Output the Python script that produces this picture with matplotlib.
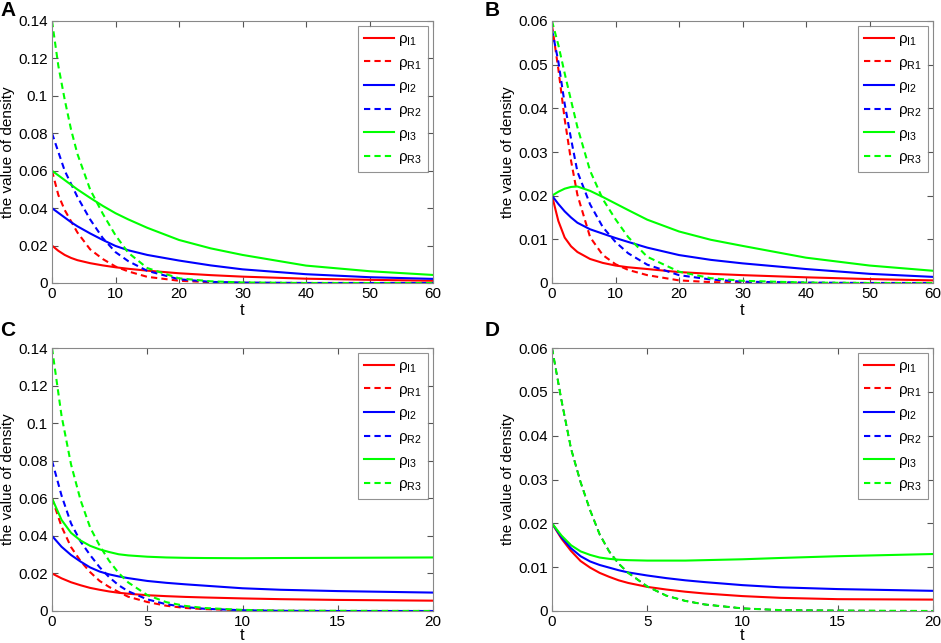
import numpy as np
import matplotlib.pyplot as plt

plt.rcParams['font.family'] = ['Liberation Sans', 'DejaVu Sans']
plt.rcParams['mathtext.fontset'] = 'custom'
plt.rcParams['mathtext.rm'] = 'Liberation Sans'
plt.rcParams['mathtext.default'] = 'regular'

# time samples
t_long = [0, 1, 2, 3, 4, 6, 8, 10, 12, 15, 20, 25, 30, 40, 50, 60]
t_short = [0, 0.5, 1, 1.5, 2, 2.5, 3, 3.5, 4, 5, 6, 7, 8, 10, 12, 15, 20]

# panel A (t 0..60)
a_i1 = [0.020, 0.0172, 0.0150, 0.0134, 0.0122, 0.0106, 0.0094, 0.0084, 0.0076, 0.0066, 0.0052, 0.0042, 0.0034, 0.0023, 0.0017, 0.0012]
a_r1 = [0.060, 0.047, 0.039, 0.033, 0.027, 0.018, 0.0128, 0.0088, 0.0062, 0.0033, 0.0012, 0.0004, 0.0001, 0.0, 0.0, 0.0]
a_i2 = [0.040, 0.0375, 0.0350, 0.0325, 0.0303, 0.0265, 0.0230, 0.0198, 0.0175, 0.0150, 0.0120, 0.0094, 0.0073, 0.0047, 0.0031, 0.0022]
a_r2 = [0.080, 0.070, 0.060, 0.053, 0.046, 0.034, 0.024, 0.0165, 0.0117, 0.0065, 0.0020, 0.0006, 0.0002, 0.0, 0.0, 0.0]
a_i3 = [0.060, 0.0575, 0.055, 0.0525, 0.050, 0.0455, 0.0412, 0.0373, 0.034, 0.0295, 0.0230, 0.0185, 0.0150, 0.0093, 0.0063, 0.0043]
a_r3 = [0.140, 0.116, 0.098, 0.082, 0.069, 0.050, 0.037, 0.0255, 0.0162, 0.0080, 0.0025, 0.0009, 0.0003, 0.0, 0.0, 0.0]

# panel B (t 0..60)
b_i1 = [0.020, 0.0142, 0.0104, 0.0084, 0.0071, 0.0055, 0.0046, 0.0040, 0.0036, 0.0032, 0.0025, 0.0021, 0.0018, 0.0013, 0.0009, 0.0006]
b_r1 = [0.059, 0.049, 0.0375, 0.028, 0.0202, 0.0105, 0.0064, 0.0043, 0.0030, 0.0018, 0.0006, 0.0002, 0.0001, 0.0, 0.0, 0.0]
b_i2 = [0.020, 0.0181, 0.0164, 0.0150, 0.0138, 0.0123, 0.0113, 0.0103, 0.0094, 0.0081, 0.0064, 0.0053, 0.0045, 0.0032, 0.0021, 0.0014]
b_r2 = [0.058, 0.0507, 0.041, 0.033, 0.0255, 0.0180, 0.0128, 0.0094, 0.0068, 0.0042, 0.0018, 0.0008, 0.0003, 0.0001, 0.0, 0.0]
b_i3 = [0.020, 0.0209, 0.0216, 0.0220, 0.0221, 0.0211, 0.0197, 0.0182, 0.0167, 0.0145, 0.0118, 0.0099, 0.0085, 0.0058, 0.0040, 0.0028]
b_r3 = [0.060, 0.0545, 0.048, 0.0418, 0.0357, 0.0257, 0.0192, 0.0146, 0.0105, 0.0060, 0.0026, 0.0011, 0.0005, 0.0001, 0.0, 0.0]

# panel C (t 0..20)
c_i1 = [0.020, 0.0174, 0.0153, 0.0137, 0.0123, 0.0113, 0.0104, 0.0097, 0.0092, 0.0084, 0.0079, 0.0075, 0.0072, 0.0067, 0.0063, 0.0059, 0.0055]
c_r1 = [0.060, 0.045, 0.034, 0.0266, 0.0207, 0.0160, 0.0128, 0.0101, 0.0076, 0.0048, 0.0028, 0.0016, 0.0010, 0.0004, 0.0001, 0.0, 0.0]
c_i2 = [0.040, 0.0342, 0.0298, 0.0263, 0.0232, 0.0210, 0.0195, 0.0184, 0.0175, 0.0160, 0.0150, 0.0142, 0.0135, 0.0121, 0.0113, 0.0106, 0.0098]
c_r2 = [0.080, 0.0615, 0.0466, 0.037, 0.0298, 0.0233, 0.0180, 0.0137, 0.0105, 0.0062, 0.0036, 0.0021, 0.0012, 0.0004, 0.0001, 0.0, 0.0]
c_i3 = [0.060, 0.0485, 0.0416, 0.0375, 0.0347, 0.0328, 0.0314, 0.0302, 0.0296, 0.0289, 0.0285, 0.0283, 0.0282, 0.0281, 0.0282, 0.0283, 0.0285]
c_r3 = [0.140, 0.104, 0.078, 0.059, 0.0445, 0.0348, 0.0267, 0.0202, 0.0152, 0.0085, 0.0047, 0.0027, 0.0016, 0.0006, 0.0002, 0.0001, 0.0]

# panel D (t 0..20), the three R curves coincide
d_i1 = [0.020, 0.0165, 0.0137, 0.0114, 0.0099, 0.0087, 0.0078, 0.0070, 0.0064, 0.0055, 0.0049, 0.0044, 0.0040, 0.0034, 0.0030, 0.0027, 0.0026]
d_i2 = [0.020, 0.0168, 0.0143, 0.0125, 0.0113, 0.0105, 0.0099, 0.0093, 0.0088, 0.0081, 0.0075, 0.0070, 0.0066, 0.0059, 0.0054, 0.0050, 0.0046]
d_i3 = [0.020, 0.0172, 0.0150, 0.0136, 0.0128, 0.0122, 0.0119, 0.0117, 0.0116, 0.0115, 0.0115, 0.0115, 0.0116, 0.0118, 0.0121, 0.0125, 0.0130]
d_r = [0.060, 0.048, 0.037, 0.0294, 0.0230, 0.0175, 0.0136, 0.0108, 0.0087, 0.0056, 0.0035, 0.0023, 0.0015, 0.0006, 0.0002, 0.0001, 0.0]

labels = [r'$\rho_{I1}$', r'$\rho_{R1}$', r'$\rho_{I2}$', r'$\rho_{R2}$', r'$\rho_{I3}$', r'$\rho_{R3}$']
colors = ['#ff0000', '#ff0000', '#0000ff', '#0000ff', '#00ff00', '#00ff00']

panels = [
    ('A', t_long, [a_i1, a_r1, a_i2, a_r2, a_i3, a_r3], 60, 0.14, [0, 0.02, 0.04, 0.06, 0.08, 0.1, 0.12, 0.14], [0, 10, 20, 30, 40, 50, 60]),
    ('B', t_long, [b_i1, b_r1, b_i2, b_r2, b_i3, b_r3], 60, 0.06, [0, 0.01, 0.02, 0.03, 0.04, 0.05, 0.06], [0, 10, 20, 30, 40, 50, 60]),
    ('C', t_short, [c_i1, c_r1, c_i2, c_r2, c_i3, c_r3], 20, 0.14, [0, 0.02, 0.04, 0.06, 0.08, 0.1, 0.12, 0.14], [0, 5, 10, 15, 20]),
    ('D', t_short, [d_i1, d_r, d_i2, d_r, d_i3, d_r], 20, 0.06, [0, 0.01, 0.02, 0.03, 0.04, 0.05, 0.06], [0, 5, 10, 15, 20]),
]
boxes = [
    [52 / 941, 360 / 643, 381 / 941, 262 / 643],
    [552 / 941, 360 / 643, 381 / 941, 262 / 643],
    [52 / 941, 32 / 643, 381 / 941, 263 / 643],
    [552 / 941, 32 / 643, 381 / 941, 263 / 643],
]
letter_pos = [(0, 10), (485, 10), (0, 330), (485, 330)]

fig = plt.figure(figsize=(9.41, 6.43), dpi=100)

for i, ((letter, t, series, xmax, ymax, yt, xt), box, lp) in enumerate(zip(panels, boxes, letter_pos)):
    ax = fig.add_axes(box)
    for k, (y, lab, col) in enumerate(zip(series, labels, colors)):
        lw = 1.5
        if letter == 'D' and k in (1, 3):
            lw = 1.1  # hidden under the green dashed curve
        line, = ax.plot(t, y, color=col, lw=lw, label=lab)
        if k % 2 == 1:
            line.set_dashes((3 * 1.5 / lw, 2 * 1.5 / lw))
    ax.set_xlim(0, xmax)
    ax.set_ylim(0, ymax)
    ax.set_xticks(xt)
    ax.set_yticks(yt)
    ax.set_yticklabels([('%g' % v) for v in yt])
    ax.tick_params(direction='in', top=True, right=True, labelsize=11, length=4,
                   color='#555555', pad=3)
    for sp in ax.spines.values():
        sp.set_color('#888888')
        sp.set_linewidth(0.8)
    ax.set_xlabel('t', fontsize=12, labelpad=1 if i < 2 else -0.5)
    ax.set_ylabel('the value of density', fontsize=11, labelpad=2)
    handles, labs = ax.get_legend_handles_labels()
    leg = ax.legend(handles, labs, loc='upper right', fontsize=11, handlelength=2.0,
                    labelspacing=0.5, fancybox=False, borderpad=0.4, handletextpad=0.25,
                    borderaxespad=0, bbox_to_anchor=(0.987, 0.981))
    leg.get_frame().set_edgecolor('#777777')
    leg.get_frame().set_linewidth(0.8)
    for h in leg.get_lines():
        h.set_linewidth(1.5)
        if h.get_linestyle() != '-':
            h.set_dashes((3, 2))
    fig.text(lp[0] / 941, 1 - lp[1] / 643, letter, fontsize=15,
             fontweight='bold', ha='left', va='center')

fig.savefig('out.png', dpi=100)
